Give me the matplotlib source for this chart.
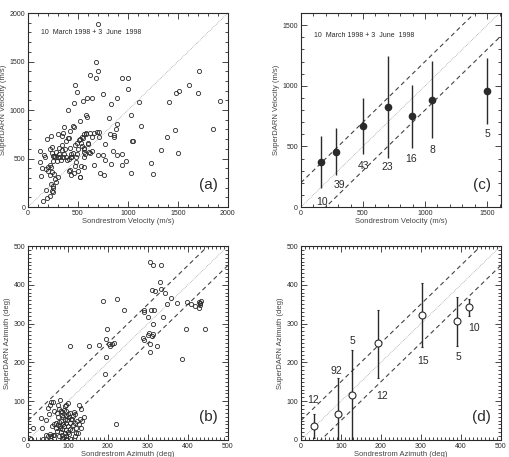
import matplotlib
matplotlib.use("Agg")
import matplotlib.pyplot as plt
import numpy as np
from matplotlib.ticker import MultipleLocator

# ---- panel (a): individual velocity pairs (Sondrestrom, SuperDARN) in m/s
vel_pairs = [
    (700, 1885), (677, 1496), (700, 1398), (683, 1329), (623, 1363), (470, 1263), (493, 1186),
    (457, 1075), (397, 998), (547, 1092), (590, 1123), (637, 1123), (750, 1165), (890, 1127),
    (937, 1329), (997, 1329), (1003, 1214), (833, 1064), (1113, 1082), (1033, 953), (1133, 835),
    (810, 922), (583, 953), (590, 929), (517, 887), (447, 835), (457, 824), (420, 779), (400, 710),
    (413, 710), (337, 730), (300, 751), (350, 765), (357, 824), (227, 734), (193, 702), (237, 616),
    (220, 598), (123, 577), (160, 539), (123, 463), (130, 323), (143, 407), (183, 390), (197, 372),
    (223, 435), (233, 417), (217, 330), (237, 358), (260, 337), (250, 522), (250, 477), (297, 511),
    (317, 511), (267, 511), (350, 511), (383, 511), (427, 511), (393, 485), (313, 605), (337, 592),
    (307, 550), (357, 550), (433, 550), (417, 609), (477, 518), (490, 545), (480, 465), (503, 602),
    (490, 664), (530, 657), (510, 695), (550, 712), (557, 755), (580, 755), (623, 758), (657, 767),
    (693, 776), (710, 776), (713, 727), (637, 720), (600, 664), (540, 630), (563, 610), (560, 565),
    (557, 520), (573, 545), (607, 564), (620, 557), (527, 424), (410, 372), (417, 385), (460, 351),
    (503, 372), (470, 424), (433, 327), (517, 310), (560, 417), (657, 438), (523, 305), (297, 310),
    (273, 285), (277, 257), (250, 212), (247, 198), (240, 163), (250, 150), (223, 118), (187, 94),
    (153, 59), (183, 174), (230, 236), (703, 539), (750, 539), (723, 351), (757, 327), (773, 480),
    (767, 650), (817, 755), (857, 720), (863, 740), (877, 803), (887, 856), (827, 445), (850, 581),
    (890, 539), (943, 546), (937, 431), (983, 476), (1027, 348), (1040, 685), (1050, 678),
    (1230, 449), (1250, 337), (1327, 588), (1390, 727), (1467, 797), (1503, 560), (1413, 1078),
    (1477, 1179), (1510, 1200), (1613, 1259), (1703, 1176), (1710, 1402), (1853, 803), (1917, 1096),
    (280, 570), (330, 480), (370, 600), (450, 560), (470, 640), (520, 700), (560, 600), (600, 650),
    (640, 580), (383, 680), (410, 500), (340, 640), (265, 530), (295, 470), (430, 520), (545, 720),
    (585, 760), (205, 410), (245, 560), (175, 520),
]

# ---- panel (c): binned velocities
c_x = [159, 286, 500, 700, 895, 1059, 1495]
c_y = [374, 456, 670, 827, 747, 882, 953]
c_lo = [159, 264, 440, 407, 489, 566, 681]
c_hi = [585, 648, 901, 1245, 1003, 1203, 1225]
c_n = ["10", "39", "43", "23", "16", "8", "5"]
c_lab_x = [173, 311, 505, 695, 889, 1059, 1503]
c_lab_y = [41, 181, 338, 330, 393, 467, 604]

# ---- panel (b): individual azimuth pairs (Sondrestrom, SuperDARN) in deg
az_pairs = [
    (306, 458), (312, 452), (332, 450), (331, 406), (310, 387), (318, 383), (332, 389), (343, 380),
    (357, 366), (348, 351), (315, 334), (308, 336), (289, 335), (338, 317), (290, 330), (301, 318),
    (313, 300), (302, 276), (313, 273), (309, 269), (300, 271), (288, 263), (290, 258), (304, 247),
    (323, 241), (305, 226), (188, 359), (223, 363), (239, 336), (198, 285), (196, 260), (178, 245),
    (153, 241), (106, 243), (203, 247), (210, 247), (214, 249), (206, 243), (196, 213), (193, 171),
    (221, 41), (386, 208), (394, 287), (442, 287), (373, 354), (398, 356), (408, 351), (417, 346),
    (427, 356), (429, 352), (431, 349), (433, 358), (427, 341), (430, 354),
    (13, 30), (8, 2), (32, 57), (36, 30), (44, 52), (50, 83), (54, 91), (58, 99), (62, 97),
    (65, 76), (53, 68), (46, 13), (50, 10), (54, 15), (58, 10), (62, 13), (66, 13), (79, 102),
    (82, 76), (92, 88), (96, 76), (100, 67), (75, 58), (78, 47), (81, 37), (86, 28), (92, 17),
    (96, 10), (77, 10), (73, 22), (69, 32), (83, 50), (88, 41), (92, 54), (96, 45), (100, 37),
    (104, 28), (104, 45), (108, 54), (112, 63), (117, 45), (121, 32), (125, 19), (129, 54),
    (132, 80), (128, 91), (120, 17), (108, 3), (96, 2), (38, 2), (58, 0), (85, 65), (88, 60),
    (90, 35), (95, 25), (99, 20), (103, 15), (110, 25), (113, 38), (118, 10), (83, 20), (87, 5),
    (70, 45), (75, 38), (80, 30), (85, 12), (90, 8), (94, 62), (98, 52), (102, 58), (106, 70),
    (110, 55), (115, 72), (118, 68), (122, 50), (127, 40), (132, 30), (136, 48), (140, 60),
    (65, 40), (60, 35), (72, 70), (78, 80), (84, 72), (90, 78), (95, 90), (100, 95), (75, 90),
]

# ---- panel (d): binned azimuths
d_x = [34, 92, 129, 194, 302, 390, 420]
d_y = [35, 68, 116, 249, 322, 307, 342]
d_lo = [6, -5, 0, 161, 240, 243, 320]
d_hi = [68, 161, 232, 336, 405, 368, 363]
d_n = ["12", "92", "5", "12", "15", "5", "10"]
d_lab_x = [31, 89, 130, 203, 306, 393, 434]
d_lab_y = [103, 178, 256, 114, 203, 213, 288]

plt.rcParams["font.family"] = ["Liberation Sans", "DejaVu Sans"]
INK = "#2a2a2a"

fig = plt.figure(figsize=(5.1, 4.57), dpi=100)
ax_a = fig.add_axes([0.0549, 0.547, 0.392, 0.4245])
ax_c = fig.add_axes([0.590, 0.547, 0.392, 0.4245])
ax_b = fig.add_axes([0.0549, 0.0372, 0.392, 0.4245])
ax_d = fig.add_axes([0.590, 0.0372, 0.392, 0.4245])


def style(ax, lim_x, lim_y, major, minor, xlabel, ylabel, tag):
    ax.set_xlim(*lim_x)
    ax.set_ylim(*lim_y)
    ax.xaxis.set_major_locator(MultipleLocator(major))
    ax.yaxis.set_major_locator(MultipleLocator(major))
    ax.xaxis.set_minor_locator(MultipleLocator(minor))
    ax.yaxis.set_minor_locator(MultipleLocator(minor))
    ax.tick_params(which="both", direction="in", top=True, right=True,
                   labelsize=5, colors=INK, width=0.6, pad=2)
    ax.tick_params(which="major", length=4)
    ax.tick_params(which="minor", length=2)
    for s in ax.spines.values():
        s.set_linewidth(0.8)
        s.set_color(INK)
    ax.set_xlabel(xlabel, fontsize=5.5, color="#444444", labelpad=1)
    ax.set_ylabel(ylabel, fontsize=5.5, color="#444444", labelpad=2)
    ax.text(0.95, 0.08, tag, transform=ax.transAxes, ha="right", va="bottom",
            fontsize=11, color=INK)


def guides(ax, top, offset):
    xs = np.array([0, top])
    ax.plot(xs, xs, color="#888888", lw=0.5, ls=(0, (1, 1.5)))
    if offset:
        ax.plot(xs, xs + offset, color="#444444", lw=0.8, ls=(0, (4, 3)))
        ax.plot(xs, xs - offset, color="#444444", lw=0.8, ls=(0, (4, 3)))


# (a)
va_x, va_y = zip(*vel_pairs)
ax_a.plot(va_x, va_y, "o", ms=3, mfc="none", mec=INK, mew=0.6)
guides(ax_a, 2000, 0)
ax_a.text(133, 1800, "10  March 1998 + 3  June  1998", fontsize=5, color=INK, va="center")
style(ax_a, (0, 2000), (0, 2000), 500, 100, "Sondrestrom Velocity (m/s)",
      "SuperDARN Velocity (m/s)", "(a)")

# (c)
guides(ax_c, 1600, 200)
ax_c.errorbar(c_x, c_y, yerr=[np.subtract(c_y, c_lo), np.subtract(c_hi, c_y)],
              fmt="o", ms=4.5, color=INK, ecolor=INK, elinewidth=1, capsize=0)
for x, y, t in zip(c_lab_x, c_lab_y, c_n):
    ax_c.text(x, y, t, fontsize=7.5, color=INK, ha="center", va="center")
ax_c.text(105, 1418, "10  March 1998 + 3  June  1998", fontsize=5, color=INK, va="center")
style(ax_c, (0, 1610), (0, 1600), 500, 100, "Sondrestrom Velocity (m/s)",
      "SuperDARN Velocity (m/s)", "(c)")

# (b)
guides(ax_b, 500, 50)
ab_x, ab_y = zip(*az_pairs)
ax_b.plot(ab_x, ab_y, "o", ms=3, mfc="none", mec=INK, mew=0.6)
style(ax_b, (0, 500), (0, 500), 100, 10, "Sondrestrom Azimuth (deg)",
      "SuperDARN Azimuth (deg)", "(b)")

# (d)
guides(ax_d, 500, 50)
ax_d.errorbar(d_x, d_y, yerr=[np.subtract(d_y, d_lo), np.subtract(d_hi, d_y)],
              fmt="o", ms=5, mfc="white", mec=INK, mew=0.8, ecolor=INK,
              elinewidth=1, capsize=1)
for x, y, t in zip(d_lab_x, d_lab_y, d_n):
    ax_d.text(x, y, t, fontsize=7.5, color=INK, ha="center", va="center")
style(ax_d, (0, 500), (0, 500), 100, 10, "Sondrestrom Azimuth (deg)",
      "SuperDARN Azimuth (deg)", "(d)")

fig.savefig("out.png", dpi=100)
